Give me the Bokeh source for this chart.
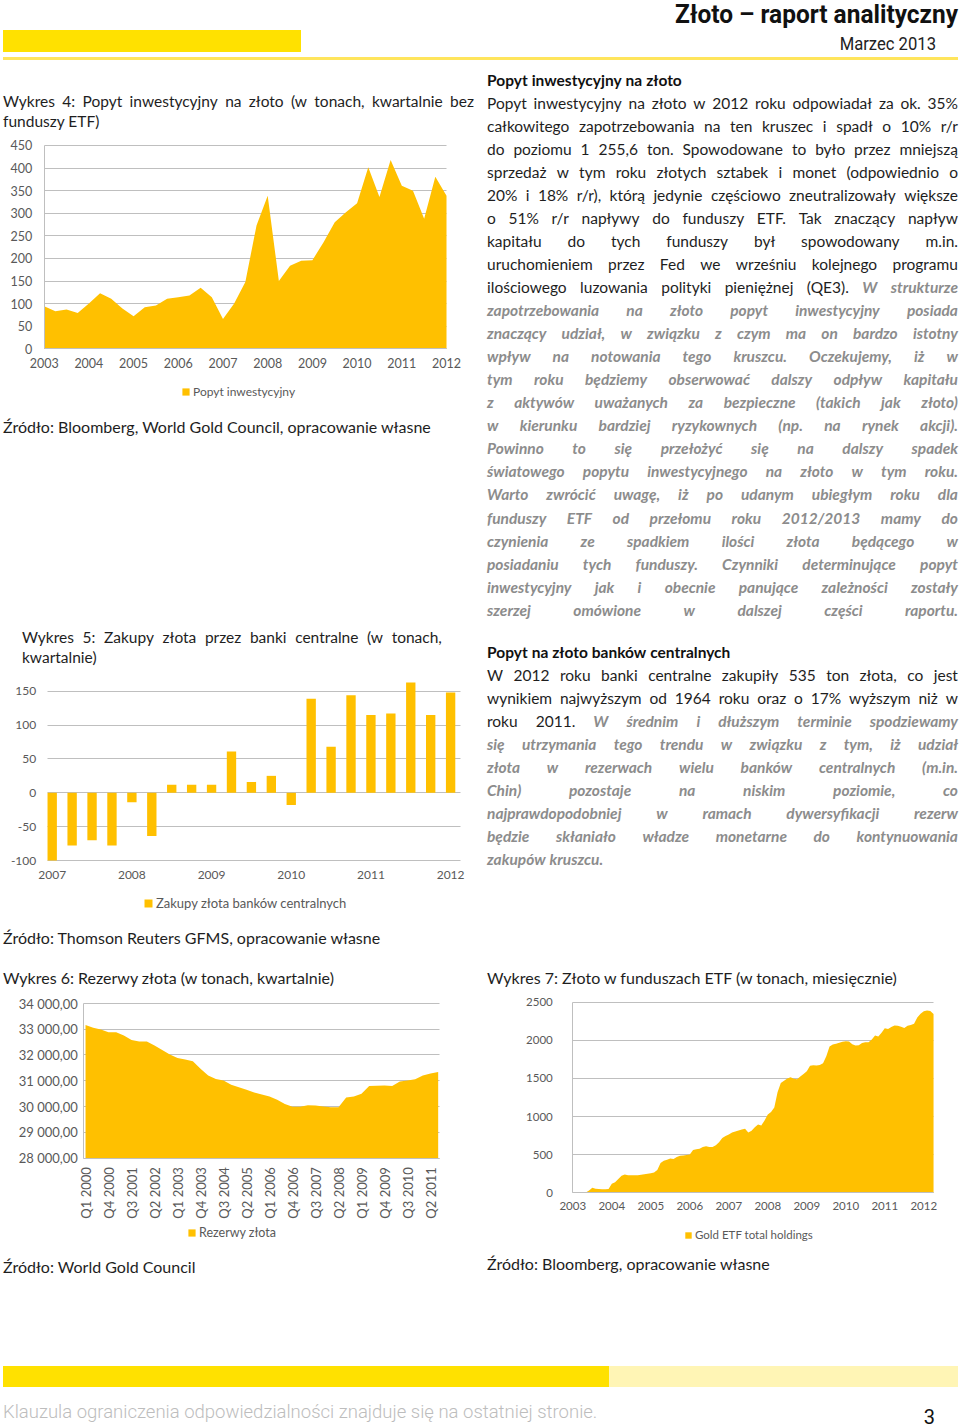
import math
import html
from bokeh.plotting import figure
from bokeh.models import (Range1d, FixedTicker, Legend, LegendItem, Div, ColumnDataSource,
                          Grid)
from bokeh.layouts import column, row
from bokeh.embed import file_html
from bokeh.resources import INLINE

# ---------------- data ----------------
# Wykres 4: quarterly investment demand (t), 2003 Q1 .. 2012 Q1
demand_years = ["2003", "2004", "2005", "2006", "2007", "2008", "2009", "2010", "2011", "2012"]
demand_start = 2003
demand_values = [94, 83, 87, 79, 100, 123, 111, 89, 72, 92, 96, 111, 114, 118, 135, 114,
                 66, 100, 148, 273, 339, 150, 184, 195, 196, 236, 280, 302, 322, 402, 336,
                 418, 361, 350, 288, 381, 339]
demand_ticks = [0, 50, 100, 150, 200, 250, 300, 350, 400, 450]
demand_legend = "Popyt inwestycyjny"

# Wykres 5: central bank purchases (t), quarterly 2007 Q1 .. 2012 Q1
cb_years = ["2007", "2008", "2009", "2010", "2011", "2012"]
cb_values = [-100, -78, -70, -78, -14, -64, 12, 12, 12, 61, 16, 25, -18, 139, 68, 144,
             115, 117, 163, 115, 148]
cb_ticks_y = [-100, -50, 0, 50, 100, 150]
cb_tick_labels = ["-100", "-50", "0", "50", "100", "150"]
cb_legend = "Zakupy złota banków centralnych"

# Wykres 6: gold reserves (t), quarterly 2000 Q1 .. 2011 Q3
res_labels = ["Q1 2000", "Q4 2000", "Q3 2001", "Q2 2002", "Q1 2003", "Q4 2003", "Q3 2004",
              "Q2 2005", "Q1 2006", "Q4 2006", "Q3 2007", "Q2 2008", "Q1 2009", "Q4 2009",
              "Q3 2010", "Q2 2011"]
res_tick_values = [28000, 29000, 30000, 31000, 32000, 33000, 34000]
res_tick_labels = ["28 000,00", "29 000,00", "30 000,00", "31 000,00", "32 000,00",
                   "33 000,00", "34 000,00"]
res_values = [33160, 33045, 32980, 32880, 32880, 32750, 32580, 32520, 32520, 32360, 32190,
              32010, 31880, 31820, 31750, 31460, 31200, 31070, 31010, 30840, 30750, 30650,
              30540, 30470, 30390, 30260, 30100, 29990, 29990, 30050, 30040, 30000, 29970,
              29970, 30350, 30390, 30490, 30790, 30800, 30810, 30790, 30970, 31010, 31060,
              31200, 31280, 31340]
res_legend = "Rezerwy złota"

# Wykres 7: gold ETF holdings (t), monthly Jan 2003 .. Apr 2012
etf_years = ["2003", "2004", "2005", "2006", "2007", "2008", "2009", "2010", "2011", "2012"]
etf_values = [
    0, 0, 0, 0, 3, 30, 65, 55, 50, 48, 48, 50,
    118, 140, 180, 225, 240, 232, 230, 230, 230, 238, 245, 250,
    258, 268, 300, 390, 420, 435, 450, 445, 470, 485, 490, 495,
    502, 560, 570, 577, 600, 612, 600, 602, 625, 664, 720, 745,
    765, 790, 805, 817, 830, 839, 790, 815, 860, 896, 883, 950,
    1027, 1060, 1120, 1320, 1440, 1470, 1500, 1517, 1495, 1490, 1525, 1560,
    1595, 1665, 1672, 1670, 1675, 1700, 1790, 1920, 1945, 1955, 1967, 1980,
    1989, 1985, 1950, 1932, 1935, 1965, 1975, 1975, 2010, 2063, 2050, 2100,
    2159, 2150, 2175, 2194, 2190, 2178, 2163, 2190, 2200, 2216, 2300, 2350,
    2380, 2390, 2385, 2345]
etf_ticks_y = [0, 500, 1000, 1500, 2000, 2500]
etf_legend = "Gold ETF total holdings"

# ---------------- page texts ----------------
page_title = "Złoto – raport analityczny"
page_date = "Marzec 2013"
title4 = ["Wykres 4: Popyt inwestycyjny na złoto (w tonach, kwartalnie bez", "funduszy ETF)"]
source4 = "Źródło: Bloomberg, World Gold Council, opracowanie własne"
title5 = ["Wykres 5: Zakupy złota przez banki centralne (w tonach,", "kwartalnie)"]
source5 = "Źródło: Thomson Reuters GFMS, opracowanie własne"
title6 = "Wykres 6: Rezerwy złota (w tonach, kwartalnie)"
title7 = "Wykres 7: Złoto w funduszach ETF (w tonach, miesięcznie)"
source6 = "Źródło: World Gold Council"
source7 = "Źródło: Bloomberg, opracowanie własne"
disclaimer = "Klauzula ograniczenia odpowiedzialności znajduje się na ostatniej stronie."
page_no = "3"

N, G, B = "n", "g", "b"
section1 = [
    ([("Popyt inwestycyjny na złoto", B)], False),
    ([("Popyt inwestycyjny na złoto w 2012 roku odpowiadał za ok. 35%", N)], True),
    ([("całkowitego zapotrzebowania na ten kruszec i spadł o 10% r/r", N)], True),
    ([("do poziomu 1 255,6 ton. Spowodowane to było przez mniejszą", N)], True),
    ([("sprzedaż w tym roku złotych sztabek i monet (odpowiednio o", N)], True),
    ([("20% i 18% r/r), którą jedynie częściowo zneutralizowały większe", N)], True),
    ([("o 51% r/r napływy do funduszy ETF. Tak znaczący napływ", N)], True),
    ([("kapitału do tych funduszy był spowodowany m.in.", N)], True),
    ([("uruchomieniem przez Fed we wrześniu kolejnego programu", N)], True),
    ([("ilościowego luzowania polityki pieniężnej (QE3).", N), ("W strukturze", G)], True),
    ([("zapotrzebowania na złoto popyt inwestycyjny posiada", G)], True),
    ([("znaczący udział, w związku z czym ma on bardzo istotny", G)], True),
    ([("wpływ na notowania tego kruszcu. Oczekujemy, iż w", G)], True),
    ([("tym roku będziemy obserwować dalszy odpływ kapitału", G)], True),
    ([("z aktywów uważanych za bezpieczne (takich jak złoto)", G)], True),
    ([("w kierunku bardziej ryzykownych (np. na rynek akcji).", G)], True),
    ([("Powinno to się przełożyć się na dalszy spadek", G)], True),
    ([("światowego popytu inwestycyjnego na złoto w tym roku.", G)], True),
    ([("Warto zwrócić uwagę, iż po udanym ubiegłym roku dla", G)], True),
    ([("funduszy ETF od przełomu roku 2012/2013 mamy do", G)], True),
    ([("czynienia ze spadkiem ilości złota będącego w", G)], True),
    ([("posiadaniu tych funduszy. Czynniki determinujące popyt", G)], True),
    ([("inwestycyjny jak i obecnie panujące zależności zostały", G)], True),
    ([("szerzej omówione w dalszej części raportu.", G)], True),
]
section2 = [
    ([("Popyt na złoto banków centralnych", B)], False),
    ([("W 2012 roku banki centralne zakupiły 535 ton złota, co jest", N)], True),
    ([("wynikiem najwyższym od 1964 roku oraz o 17% wyższym niż w", N)], True),
    ([("roku 2011.", N), ("W średnim i dłuższym terminie spodziewamy", G)], True),
    ([("się utrzymania tego trendu w związku z tym, iż udział", G)], True),
    ([("złota w rezerwach wielu banków centralnych (m.in.", G)], True),
    ([("Chin) pozostaje na niskim poziomie, co", G)], True),
    ([("najprawdopodobniej w ramach dywersyfikacji rezerw", G)], True),
    ([("będzie skłaniało władze monetarne do kontynuowania", G)], True),
    ([("zakupów kruszcu.", G)], False),
]

# ---------------- styles ----------------
GOLD = "#FFC000"
GRID = "#BFBFBF"
TICK = "#595959"
CFONT = "Lato"
BODY = "Lato, 'Open Sans', sans-serif"
NARROW = "Roboto, 'Open Sans', sans-serif"
SEG_STYLE = {
    N: "color:#1e1e1e;",
    G: "color:#8c8c8c;font-weight:bold;font-style:italic;",
    B: "color:#111111;font-weight:bold;",
}
BODY_SIZE = 15.5
HAS_CROSS_BOUNDS = "cross_bounds" in Grid.properties()


def words(segs):
    out = []
    for txt, kind in segs:
        for w in txt.split():
            out.append('<span style="%s">%s</span>' % (SEG_STYLE[kind], html.escape(w)))
    return out


def line_html(segs, left, cy, width=None, justify=False, size=BODY_SIZE, lh=22,
              family=BODY):
    top = cy - lh / 2.0
    base = ("position:absolute;left:%.1fpx;top:%.1fpx;white-space:nowrap;font-family:%s;"
            "font-size:%.1fpx;line-height:%dpx;" % (left, top, family, size, lh))
    if justify:
        base += "width:%dpx;display:flex;justify-content:space-between;" % width
        return '<div style="%s">%s</div>' % (base, "".join(words(segs)))
    return '<div style="%s">%s</div>' % (base, " ".join(words(segs)))


def free_text(txt, left, cy, size, color="#1e1e1e", weight="normal", family=BODY,
              lh=22, align="left", width=None, extra=""):
    top = cy - lh / 2.0
    w = "width:%dpx;text-align:%s;" % (width, align) if width else ""
    return ('<div style="position:absolute;left:%.1fpx;top:%.1fpx;%swhite-space:nowrap;'
            'font-family:%s;font-size:%.1fpx;line-height:%dpx;color:%s;font-weight:%s;%s">%s</div>'
            % (left, top, w, family, size, lh, color, weight, extra, html.escape(txt)))


def box(left, top, w, h, color):
    return ('<div style="position:absolute;left:%dpx;top:%dpx;width:%dpx;height:%dpx;'
            'background:%s;"></div>' % (left, top, w, h, color))


def page_div(inner, w, h):
    return Div(text='<div style="position:relative;width:%dpx;height:%dpx;">%s</div>'
               % (w, h, "".join(inner)), width=w, height=h, margin=0)


def make_fig(w, h, xr, yr, xplot, yplot, yticks):
    """The frame fills the whole figure; both axes sit at fixed data locations
    (left / bottom edge of the plot area) so tick labels and the legend are drawn
    inside the frame, around the plot area xplot x yplot."""
    p = figure(width=w, height=h, x_range=Range1d(*xr), y_range=Range1d(*yr),
               output_backend="svg", toolbar_location=None,
               min_border_left=0, min_border_right=0, min_border_top=0,
               min_border_bottom=0, margin=0)
    p.outline_line_color = None
    p.background_fill_color = "white"
    p.border_fill_color = "white"
    p.xgrid.grid_line_color = None
    if HAS_CROSS_BOUNDS:
        p.ygrid.grid_line_color = GRID
        p.ygrid.grid_line_width = 1
        p.ygrid.cross_bounds = xplot
    else:
        p.ygrid.grid_line_color = None
        n = len(yticks)
        gl = p.segment(x0=[xplot[0]] * n, x1=[xplot[1]] * n, y0=yticks, y1=yticks,
                       line_color=GRID, line_width=1)
        gl.level = "underlay"
    p.xaxis.fixed_location = yplot[0]
    p.xaxis.bounds = xplot
    p.yaxis.fixed_location = xplot[0]
    p.yaxis.bounds = yplot
    p.yaxis.ticker = FixedTicker(ticks=yticks)
    for ax in p.axis:
        ax.major_tick_line_color = None
        ax.minor_tick_line_color = None
        ax.major_tick_out = 0
        ax.major_tick_in = 0
        ax.major_label_text_font = CFONT
        ax.major_label_text_color = TICK
        ax.axis_line_color = GRID
    return p


def add_legend(p, label, r, vx, vy, size, glyph):
    lg = Legend(items=[LegendItem(label=label, renderers=[r])], location=(vx, vy),
                orientation="horizontal", border_line_color=None, background_fill_alpha=0,
                padding=0, margin=0, spacing=0, glyph_width=glyph, glyph_height=glyph,
                label_text_font=CFONT, label_text_font_size=size, label_text_color=TICK,
                label_standoff=3, label_height=glyph)
    p.add_layout(lg)


# ---------------- Wykres 4 ----------------
x4 = [demand_start + i / 4.0 for i in range(len(demand_values))]
src4 = ColumnDataSource(dict(x=x4, y=demand_values))
p4 = make_fig(484, 273, (2002.09, 2012.917), (-136.6, 467.7), (2003, 2012), (0, 450),
              demand_ticks)
r4 = p4.varea(x="x", y1=0, y2="y", source=src4, fill_color=GOLD)
yr_ticks4 = [int(y) for y in demand_years]
p4.xaxis.ticker = FixedTicker(ticks=yr_ticks4)
p4.xaxis.major_label_overrides = {t: s for t, s in zip(yr_ticks4, demand_years)}
for ax in p4.axis:
    ax.major_label_text_font_size = "12.5px"
p4.xaxis.major_label_standoff = 9
p4.yaxis.major_label_standoff = 12
add_legend(p4, demand_legend, r4, 178, 11, "12px", 9)

# ---------------- Wykres 5 ----------------
x5 = list(range(len(cb_values)))
src5 = ColumnDataSource(dict(x=x5, top=cb_values))
p5 = make_fig(484, 245, (-2.445, 21.852), (-188.6, 173.2), (-0.25, 20.5), (-100, 173.2),
              cb_ticks_y)
r5 = p5.vbar(x="x", top="top", width=0.47, source=src5, fill_color=GOLD, line_color=None)
cb_ticks = [i * 4 for i in range(len(cb_years))]
p5.xaxis.ticker = FixedTicker(ticks=cb_ticks)
p5.xaxis.major_label_overrides = {t: s for t, s in zip(cb_ticks, cb_years)}
p5.yaxis.major_label_overrides = {t: s for t, s in zip(cb_ticks_y, cb_tick_labels)}
for ax in p5.axis:
    ax.axis_line_color = None
    ax.major_label_text_font_size = "12px"
p5.xaxis.major_label_standoff = 10
p5.yaxis.major_label_standoff = 11
add_legend(p5, cb_legend, r5, 140, 9, "13px", 10)

# ---------------- Wykres 6 ----------------
x6 = list(range(len(res_values)))
src6 = ColumnDataSource(dict(x=x6, y=res_values))
p6 = make_fig(475, 260, (-10.7, 51.26), (24233, 34298), (-0.22, 46.2), (28000, 34000),
              res_tick_values)
r6 = p6.varea(x="x", y1=28000, y2="y", source=src6, fill_color=GOLD)
res_ticks = [i * 3 for i in range(len(res_labels))]
p6.xaxis.ticker = FixedTicker(ticks=res_ticks)
p6.xaxis.major_label_overrides = {t: s for t, s in zip(res_ticks, res_labels)}
p6.xaxis.major_label_orientation = math.pi / 2
p6.yaxis.major_label_overrides = {t: s for t, s in zip(res_tick_values, res_tick_labels)}
for ax in p6.axis:
    ax.major_label_text_font_size = "13px"
p6.xaxis.major_label_standoff = 9
p6.yaxis.major_label_standoff = 6
add_legend(p6, res_legend, r6, 184, 15, "12.5px", 9)

# ---------------- Wykres 7 ----------------
x7 = [2003 + m / 12.0 for m in range(len(etf_values))]
src7 = ColumnDataSource(dict(x=x7, y=etf_values))
p7 = make_fig(480, 260, (2000.582, 2012.89), (-822, 2587.9), (2003, 2012.24), (0, 2500),
              etf_ticks_y)
r7 = p7.varea(x="x", y1=0, y2="y", source=src7, fill_color=GOLD)
etf_ticks = [int(y) for y in etf_years]
p7.xaxis.ticker = FixedTicker(ticks=etf_ticks)
p7.xaxis.major_label_overrides = {t: s for t, s in zip(etf_ticks, etf_years)}
for ax in p7.axis:
    ax.major_label_text_font_size = "11.5px"
p7.xaxis.major_label_standoff = 9
p7.yaxis.major_label_standoff = 20
add_legend(p7, etf_legend, r7, 206, 14, "11.5px", 8)

# ---------------- page blocks ----------------
# header (page origin x=3, y=0)
header = page_div([
    box(0, 30, 298, 22, "#FFE100"),
    box(0, 57, 955, 3, "#FFE55C"),
    free_text(page_title, 455, 14, 26, color="#111111", weight="bold", family=NARROW,
              lh=28, align="right", width=500,
              extra="transform:scaleX(0.94);transform-origin:right center;"),
    free_text(page_date, 733, 44, 17.5, color="#222222", family=NARROW, lh=22,
              align="right", width=200,
              extra="transform:scaleX(0.95);transform-origin:right center;"),
], 955, 62)

# left column pieces
t4 = page_div([
    line_html([(title4[0], N)], 0, 39, width=471, justify=True, size=15.5),
    line_html([(title4[1], N)], 0, 59, size=15.5),
], 484, 75)
s4 = page_div([free_text(source4, 0, 17, 16)], 484, 35)
t5 = page_div([
    line_html([(title5[0], N)], 19, 192, width=420, justify=True, size=15.5),
    line_html([(title5[1], N)], 19, 212, size=15.5),
], 484, 230)
left_col = column(t4, p4, s4, t5, p5, spacing=0, margin=0)

# right text column (page origin x=487, y=62)
inner = []
for i, (segs, just) in enumerate(section1):
    cy = 80 + 23.05 * i - 62
    inner.append(line_html(segs, 0, cy, width=471, justify=just, lh=23))
for i, (segs, just) in enumerate(section2):
    cy = 652 + 23.05 * i - 62
    inner.append(line_html(segs, 0, cy, width=471, justify=just, lh=23))
right_col = page_div(inner, 471, 858)

band_b = row(left_col, right_col, spacing=0, margin=0)
band_c = page_div([free_text(source5, 0, 18, 16)], 955, 40)
band_d = page_div([free_text(title6, 0, 18, 16), free_text(title7, 484, 18, 16)], 955, 35)
band_e = row(p6, p7, spacing=0, margin=0)
band_f = page_div([
    free_text(source6, 0, 12, 16, lh=20),
    free_text(source7, 484, 9, 16, lh=18),
    box(0, 111, 606, 21, "#FFE100"),
    box(606, 111, 349, 21, "#FFF5B5"),
    free_text(disclaimer, 0, 157, 18.5, color="#BDBDBD", weight="300", family=NARROW,
              lh=22),
    free_text(page_no, 832, 162, 20, color="#111111", family=NARROW, lh=24,
              align="right", width=100),
], 955, 173)

page = column(header, band_b, band_c, band_d, band_e, band_f, spacing=0,
              margin=(0, 0, 0, 3))

with open("out.html", "w", encoding="utf-8") as f:
    f.write(file_html(page, INLINE, title="Złoto – raport analityczny"))
